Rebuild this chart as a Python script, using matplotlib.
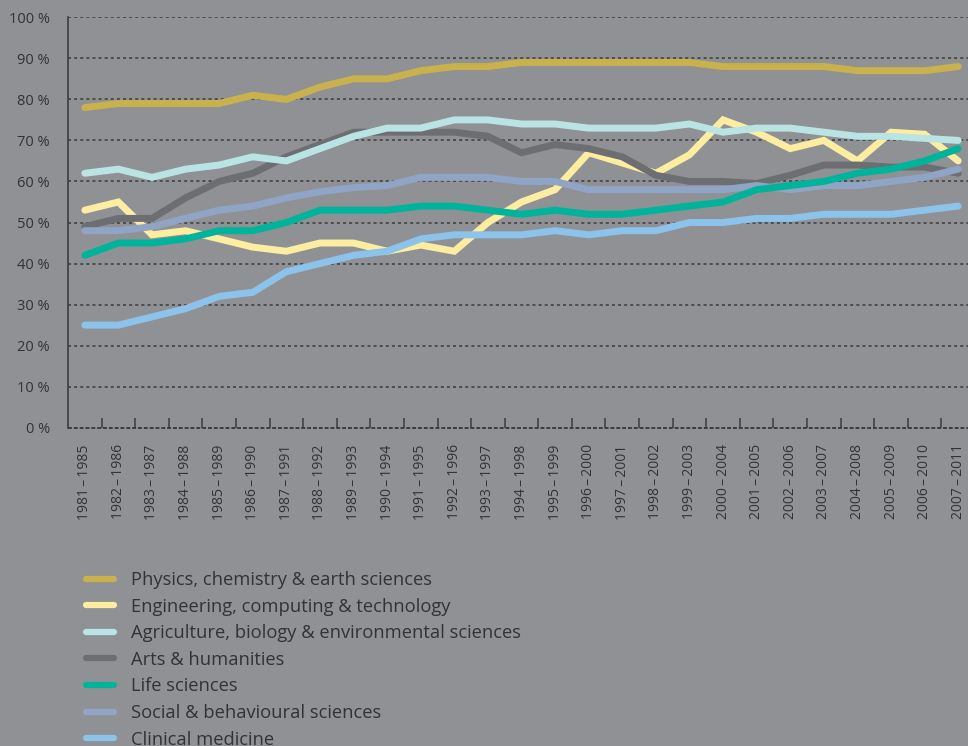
import matplotlib.pyplot as plt
from matplotlib.ticker import FixedLocator, FuncFormatter

plt.rcParams['font.family'] = ['Open Sans', 'DejaVu Sans']

periods = ['1981–1985', '1982–1986', '1983–1987', '1984–1988', '1985–1989', '1986–1990',
           '1987–1991', '1988–1992', '1989–1993', '1990–1994', '1991–1995', '1992–1996',
           '1993–1997', '1994–1998', '1995–1999', '1996–2000', '1997–2001', '1998–2002',
           '1999–2003', '2000–2004', '2001–2005', '2002–2006', '2003–2007', '2004–2008',
           '2005–2009', '2006–2010', '2007–2011']

physics = [78, 79, 79, 79, 79, 81, 80, 83, 85, 85, 87, 88, 88, 89, 89, 89, 89, 89, 89,
           88, 88, 88, 88, 87, 87, 87, 88]
engineering = [53, 55, 47, 48, 46, 44, 43, 45, 45, 43, 44.5, 43, 50, 55, 58, 67, 64.5, 62,
               66.5, 75, 72, 68, 70, 65, 72, 71.5, 65]
agriculture = [62, 63, 61, 63, 64, 66, 65, 68, 71, 73, 73, 75, 75, 74, 74, 73, 73, 73, 74,
               72, 73, 73, 72, 71, 71, 70.5, 70]
arts = [49, 51, 51, 56, 60, 62, 66, 69, 72, 72, 72, 72, 71, 67, 69, 68, 66, 61.5, 60, 60,
        59.5, 61.5, 64, 64, 63.5, 63.5, 62]
life = [42, 45, 45, 46, 48, 48, 50, 53, 53, 53, 54, 54, 53, 52, 53, 52, 52, 53, 54, 55,
        58, 59, 60, 62, 63, 65, 68]
social = [48, 48, 49, 51, 53, 54, 56, 57.5, 58.5, 59, 61, 61, 61, 60, 60, 58, 58, 58, 58,
          58, 59, 58, 59, 59, 60, 61, 63]
clinical = [25, 25, 27, 29, 32, 33, 38, 40, 42, 43, 46, 47, 47, 47, 48, 47, 48, 48, 50, 50,
            51, 51, 52, 52, 52, 53, 54]

series = [
    ('Physics, chemistry & earth sciences', physics, '#c9b14d', 1),
    ('Engineering, computing & technology', engineering, '#fdeda1', 2),
    ('Agriculture, biology & environmental sciences', agriculture, '#bae4e4', 4),
    ('Arts & humanities', arts, '#6d6e72', 3),
    ('Life sciences', life, '#00b49b', 6),
    ('Social & behavioural sciences', social, '#90a5c5', 5),
    ('Clinical medicine', clinical, '#8bc3eb', 7),
]

bg = '#909195'
txt = '#333333'

fig = plt.figure(figsize=(9.68, 7.46), dpi=100, facecolor=bg)
ax = fig.add_axes([68 / 968, 318.3 / 746, 907 / 968, 410.4 / 746])
ax.set_facecolor(bg)

x = list(range(len(periods)))
for label, vals, color, z in series:
    ax.plot(x, vals, color=color, lw=5, label=label, zorder=z + 2,
            solid_capstyle='round', solid_joinstyle='miter')

ax.set_xlim(-0.5, len(periods) - 0.5)
ax.set_ylim(0, 100)

# grid
for v in range(10, 101, 10):
    ax.axhline(v, color='#3c3c3c', lw=1.1, ls=(0, (2, 2)), zorder=1)
ax.axhline(0, color='#3c3c3c', lw=1.4, ls=(0, (2, 1)), zorder=1, clip_on=False)

for s in ['top', 'right', 'bottom']:
    ax.spines[s].set_visible(False)
ax.spines['left'].set_color('#3c3c3c')
ax.spines['left'].set_linewidth(1.2)

ax.set_yticks(range(0, 101, 10))
ax.yaxis.set_major_formatter(FuncFormatter(lambda v, p: f'{int(v)} %'))
ax.tick_params(axis='y', length=0, pad=13, labelsize=10.5, labelcolor=txt)

ax.set_xticks(x)
ax.set_xticklabels([p.replace('–', '\u2009–\u2009') for p in periods],
                   rotation=90, va='top', ha='center')
ax.xaxis.set_minor_locator(FixedLocator([i + 0.5 for i in x]))
ax.tick_params(axis='x', which='major', length=0, pad=12, labelsize=10, labelcolor=txt)
ax.tick_params(axis='x', which='minor', direction='in', length=7.5, width=1.1, color='#3c3c3c')

leg = fig.legend(loc='upper left', bbox_to_anchor=(86 / 968, 1 - 571 / 746),
                 frameon=False, fontsize=13.2, handlelength=1.5, handletextpad=0.95,
                 labelspacing=0.47, borderpad=0, borderaxespad=0, labelcolor=txt)
for h in leg.get_lines():
    h.set_linewidth(4.5)

fig.savefig('out.png', dpi=100, facecolor=bg)
